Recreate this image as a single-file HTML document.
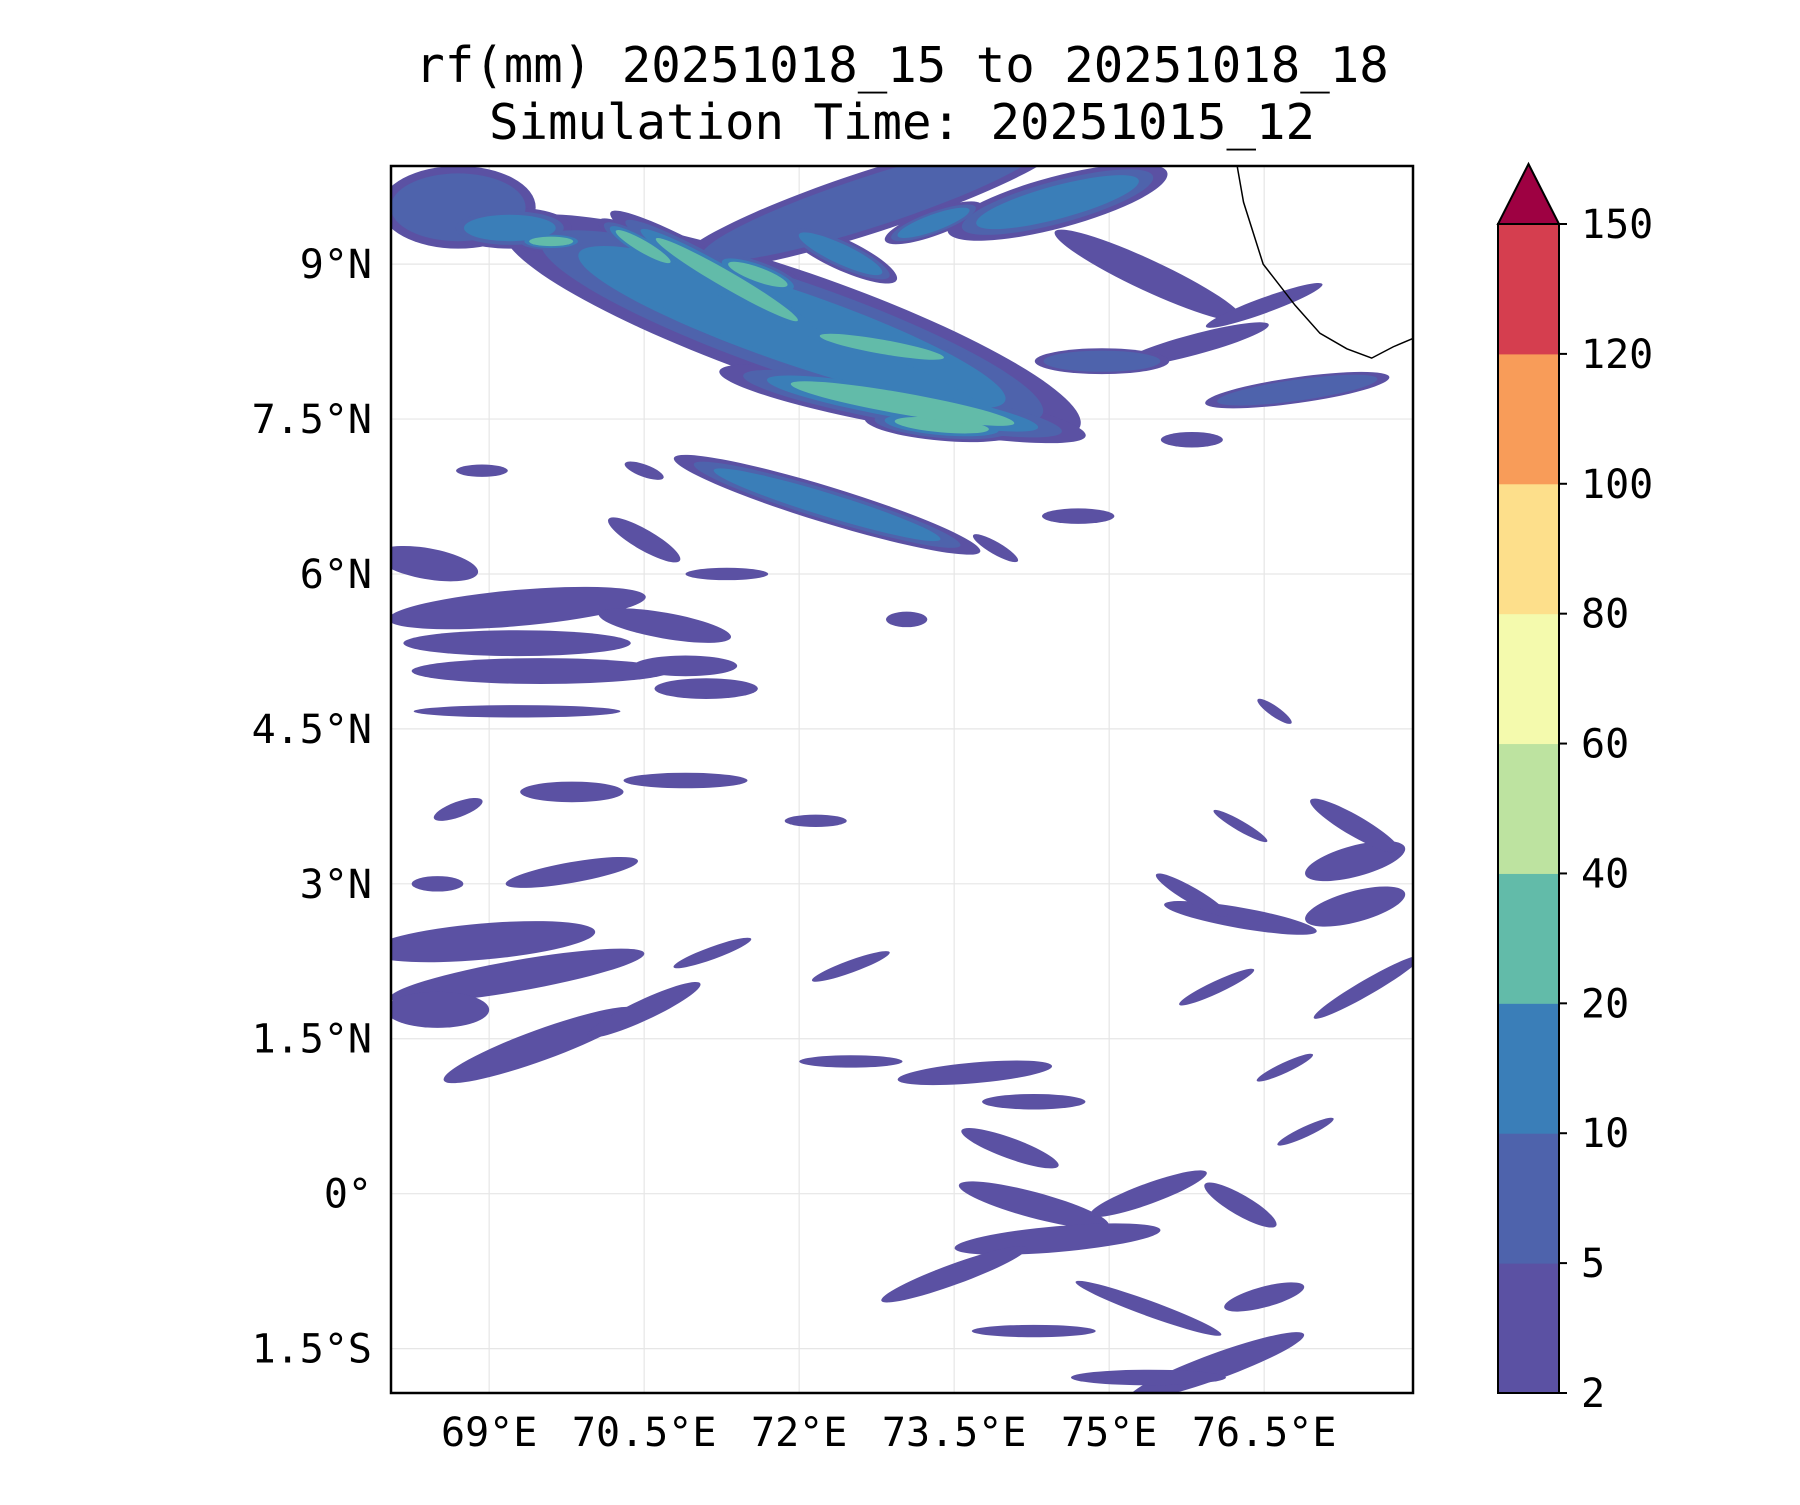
<!DOCTYPE html>
<html><head><meta charset="utf-8"><style>
html,body{margin:0;padding:0;background:#fff;}
svg text{font-family:"DejaVu Sans Mono","Liberation Mono",monospace;fill:#000;}
</style></head><body>
<svg id="chart" width="1800" height="1500" viewBox="0 0 1800 1500" xmlns="http://www.w3.org/2000/svg">
<text x="902" y="82" font-size="49" text-anchor="middle">rf(mm) 20251018_15 to 20251018_18</text>
<text x="902" y="139" font-size="49" text-anchor="middle">Simulation Time: 20251015_12</text>
<defs><clipPath id="plotclip"><rect x="391" y="166" width="1022" height="1227"/></clipPath></defs>
<g id="grid"></g>
<g id="blobs" clip-path="url(#plotclip)"></g>
<g id="coast" clip-path="url(#plotclip)"></g>
<rect x="391" y="166" width="1022" height="1227" fill="none" stroke="#000" stroke-width="2.5"/>
<g id="ticks"></g>
<g id="cbar"></g>
</svg>
<script>
const lonTicks=[69,70.5,72,73.5,75,76.5];
const lonLabels=["69°E","70.5°E","72°E","73.5°E","75°E","76.5°E"];
const latTicks=[9,7.5,6,4.5,3,1.5,0,-1.5];
const latLabels=["9°N","7.5°N","6°N","4.5°N","3°N","1.5°N","0°","1.5°S"];
const levels=[2,5,10,20,40,60,80,100,120,150];
const levelColors=["#5b51a3","#4e63ac","#3a7eb8","#62bba9","#bde3a0","#f4faad","#fddf8b","#f89c59","#d53e4f"];
const extendColor="#9e0142";
// blobs: lon, lat, length(deg), thickness(deg), angle(deg), level index
const blobLon=[68.7,71.93,72.04,73.38,70.49,69.6,72.71,75.38,75.82,74.93,76.82,75.8,72.27,74.7,68.93,70.5,
68.4,69.27,69.27,69.5,70.7,70.9,71.1,70.5,73.04,69.27,69.8,68.7,70.9,72.16,69.8,68.5,68.93,69.27,68.5,69.5,70.5,71.16,72.5,73.7,74.27,
74.04,74.27,74.5,73.5,75.38,76.27,75.38,76.5,76.04,74.27,75.38,
77.38,77.38,76.27,77.38,77.5,76.04,75.8,76.27,76.6,76.7,72.4,71.6,73.3,76.5,71.3,73.9,72.5,76.9,
73.0,71.3,74.5,72.8,69.2];
const blobLat=[9.55,8.39,8.22,7.44,9.17,9.22,9.61,8.89,8.22,8.06,7.78,7.3,6.67,6.56,7.0,7.0,
6.1,5.67,5.33,5.06,5.5,5.11,4.89,6.33,5.56,4.67,3.89,3.72,4.0,3.61,3.11,3.0,2.44,2.11,1.78,1.44,1.78,2.33,1.28,1.17,0.89,
0.44,-0.11,-0.44,-0.78,0,-0.11,-1.11,-1.0,-1.67,-1.33,-1.78,
3.22,2.78,2.67,3.56,2.0,2.0,2.89,3.56,4.67,1.22,9.1,8.9,9.4,8.6,6.0,6.25,2.2,0.6,
7.65,8.85,9.6,8.2,9.35];
const blobLen=[1.5,5.9,5.0,1.5,1.0,0.7,4.0,2.0,1.5,1.3,1.8,0.6,3.1,0.7,0.5,0.4,
1.0,2.5,2.2,2.5,1.3,1.0,1.0,0.8,0.4,2.0,1.0,0.5,1.2,0.6,1.3,0.5,2.2,2.5,1.0,2.0,1.2,0.8,1.0,1.5,1.0,
1.0,1.5,2.0,1.5,1.2,0.8,1.5,0.8,1.8,1.2,1.5,
1.0,1.0,1.5,1.0,1.2,0.8,0.8,0.6,0.4,0.6,1.2,1.0,1.0,1.2,0.8,0.5,0.8,0.6,
3.6,2.6,2.2,2.0,1.2];
const blobTh=[0.8,1.1,0.6,0.3,0.25,0.2,0.6,0.3,0.2,0.25,0.25,0.15,0.35,0.15,0.12,0.12,
0.3,0.35,0.25,0.25,0.25,0.2,0.2,0.2,0.15,0.12,0.2,0.15,0.15,0.12,0.2,0.15,0.35,0.3,0.35,0.3,0.2,0.12,0.12,0.2,0.15,
0.2,0.25,0.25,0.2,0.2,0.2,0.15,0.2,0.25,0.12,0.15,
0.3,0.3,0.2,0.2,0.15,0.12,0.15,0.1,0.1,0.1,0.3,0.3,0.25,0.15,0.12,0.12,0.12,0.1,
0.45,0.35,0.5,0.3,0.4];
const blobAng=[0,19,20,5,30,0,-18,25,-15,0,-8,0,17,0,0,20,
10,-5,0,0,10,0,0,30,0,0,0,-20,0,0,-10,0,-5,-10,0,-20,-25,-20,0,-5,0,
20,15,-5,-20,-20,30,20,-15,-20,0,0,
-15,-15,10,30,-30,-25,30,30,35,-25,25,20,-20,-20,0,30,-20,-25,
10,30,-15,10,0];
const blobLvl=[1,2,2,3,3,3,1,0,0,1,1,0,2,0,0,0,
0,0,0,0,0,0,0,0,0,0,0,0,0,0,0,0,0,0,0,0,0,0,0,0,0,
0,0,0,0,0,0,0,0,0,0,0,
0,0,0,0,0,0,0,0,0,0,2,3,2,0,0,0,0,0,
3,3,2,3,2];
const coastLon=[76.24,76.3,76.49,76.8,77.04,77.3,77.54,77.75,77.94];
const coastLat=[9.94,9.6,9.0,8.6,8.33,8.18,8.09,8.2,8.28];

const X0=391,X1=1413,Y0=166,Y1=1393,LON0=68.05,LON1=77.94,LAT0=-1.93,LAT1=9.95;
function xs(lon){return X0+(lon-LON0)/(LON1-LON0)*(X1-X0);}
function ys(lat){return Y1-(lat-LAT0)/(LAT1-LAT0)*(Y1-Y0);}
const pxDeg=(X1-X0)/(LON1-LON0), pyDeg=(Y1-Y0)/(LAT1-LAT0);
const NS="http://www.w3.org/2000/svg";
function mk(t,a,p){const e=document.createElementNS(NS,t);for(const k in a)e.setAttribute(k,a[k]);p.appendChild(e);return e;}
const grid=document.getElementById('grid'),ticks=document.getElementById('ticks');
lonTicks.forEach((v,i)=>{const x=xs(v);
 const g=mk('line',{x1:x,x2:x,y1:Y0,y2:Y1,stroke:'#e6e6e6','stroke-width':1.2},grid);
 
 
 const t=mk('text',{x:x,y:1446,'font-size':40,'text-anchor':'middle'},ticks);t.textContent=lonLabels[i];
 
 
});
latTicks.forEach((v,i)=>{const y=ys(v);
 const g=mk('line',{x1:X0,x2:X1,y1:y,y2:y,stroke:'#e6e6e6','stroke-width':1.2},grid);
 
 
 const t=mk('text',{x:372,y:y+14,'font-size':40,'text-anchor':'end'},ticks);t.textContent=latLabels[i];
 
 
});
const blobs=document.getElementById('blobs');
for(let L=0;L<=3;L++){
 blobLon.forEach((lon,i)=>{
  if(blobLvl[i]<L)return;
  const shrink=1-(L*0.13);
  const rx=blobLen[i]*pxDeg/2*shrink;
  const ry=Math.max(blobTh[i]*pyDeg/2*(shrink-0.05*L),3);
  const e=mk('ellipse',{cx:xs(lon),cy:ys(blobLat[i]),rx:rx,ry:ry,fill:levelColors[L],transform:`rotate(${blobAng[i]} ${xs(lon)} ${ys(blobLat[i])})`},blobs);
  
  
 });
}
const coast=document.getElementById('coast');
const cp=mk('polyline',{points:coastLon.map((v,i)=>xs(v)+','+ys(coastLat[i])).join(' '),fill:'none',stroke:'#000','stroke-width':1.5},coast);


const cb=document.getElementById('cbar');
const CX=1498,CW=61,CB=1393,CT=224;
const step=(CB-CT)/(levels.length-1);
levelColors.forEach((c,i)=>{
 const r=mk('rect',{x:CX,y:CB-(i+1)*step,width:CW,height:step+0.5,fill:c},cb);
 
 
});
const tri=mk('polygon',{points:`${CX},${CT} ${CX+CW},${CT} ${CX+CW/2},${CT-60}`,fill:extendColor,stroke:'#000','stroke-width':2},cb);


const fr=mk('rect',{x:CX,y:CT,width:CW,height:CB-CT,fill:'none',stroke:'#000','stroke-width':2},cb);


levels.forEach((v,i)=>{const y=CB-i*step;
 mk('line',{x1:CX+CW,x2:CX+CW+8,y1:y,y2:y,stroke:'#000','stroke-width':2},cb);
 const t=mk('text',{x:CX+CW+22,y:y+14,'font-size':40},cb);t.textContent=v;
 
 
});
</script>
</body></html>
